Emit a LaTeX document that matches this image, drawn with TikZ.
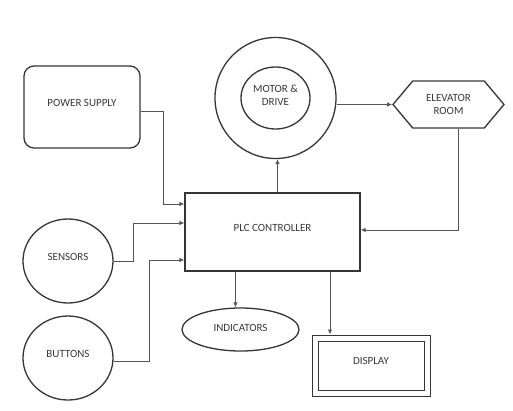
\documentclass[tikz,border=0pt]{standalone}
\usepackage{fontspec}
\setmainfont{Carlito}
\usetikzlibrary{shapes.geometric,shapes.symbols,arrows.meta,positioning,calc}
\definecolor{boxline}{HTML}{353535}
\definecolor{wireline}{HTML}{555555}
\definecolor{labeltext}{HTML}{383838}
\tikzset{
  block/.style={draw=boxline, line width=1.3pt, text=labeltext, font=\fontsize{11}{13}\selectfont, align=center, inner sep=0pt},
  raised/.style={text depth=9pt},
  wire/.style={draw=wireline, line width=0.9pt, -{Latex[length=5pt,width=4.5pt]}},
}

\begin{document}
\begin{tikzpicture}[x=1pt,y=-1pt]
\useasboundingbox (0,0) rectangle (513,410);
% Power supply
\node[block, raised, rounded corners=10pt, minimum width=116pt, minimum height=82pt] (psu) at (82,107) {POWER SUPPLY};
% Motor and drive
\node[block, circle, minimum size=121pt] (motor) at (275.5,98) {};
\node[block, ellipse, minimum width=69pt, minimum height=62pt] (drive) at (275.5,98) {\raisebox{5pt}{MOTOR \&}\\\raisebox{5pt}{DRIVE}};
% Elevator room
\node[block, signal, signal to=west and east, signal pointer angle=100, minimum width=111pt, minimum height=47pt] (room) at (448.5,104.5) {ELEVATOR\\ROOM};
% PLC controller
\node[block, raised, minimum width=175pt, minimum height=78pt] (plc) at (272.5,232) {PLC CONTROLLER};
% Sensors and buttons
\node[block, raised, ellipse, minimum width=90pt, minimum height=84pt] (sensors) at (68,261) {SENSORS};
\node[block, raised, ellipse, minimum width=90pt, minimum height=84pt] (buttons) at (68,358) {BUTTONS};
% Outputs
\node[block, ellipse, text depth=4pt, minimum width=117pt, minimum height=43pt] (indicators) at (240.5,329.5) {INDICATORS};
\node[block, raised, double, double distance=5pt, line width=1pt, outer sep=3.5pt, minimum width=112pt, minimum height=55pt] (display) at (371,365.5) {DISPLAY};

% Connectors
\draw[wire] ([yshift=-4pt]psu.east) -- ++(23,0) |- ([yshift=28pt]plc.west);
\draw[wire] (sensors.east) -- ++(20,0) |- ([yshift=9pt]plc.west);
\draw[wire] ([yshift=-3pt]buttons.east) -- ++(36,0) |- ([yshift=-28pt]plc.west);
\draw[wire] ([xshift=5pt]plc.north) -- ([xshift=5pt]plc.north |- motor.south);
\draw[wire] (motor.east |- room.west) -- (room.west);
\draw[wire] ([xshift=10pt]room.south) |- ([yshift=2pt]plc.east);
\draw[wire] ([xshift=-37pt]plc.south) -- ([xshift=-37pt]plc.south |- indicators.north);
\draw[wire] ([xshift=57.5pt]plc.south) -- ([xshift=57.5pt]plc.south |- display.north);
\end{tikzpicture}
\end{document}
